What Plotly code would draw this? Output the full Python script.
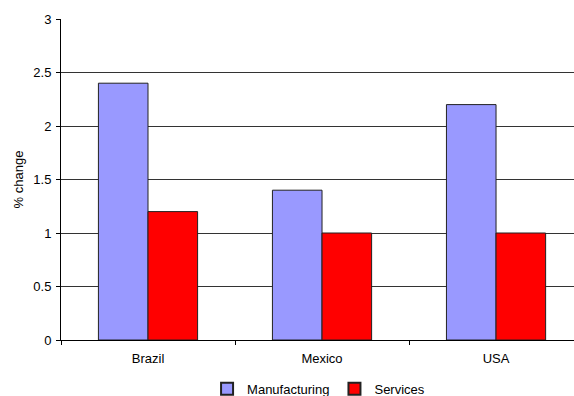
import plotly.graph_objects as go

categories = ["Brazil", "Mexico", "USA"]
manufacturing = [2.4, 1.4, 2.2]
services = [1.2, 1.0, 1.0]
y_ticks = [0, 0.5, 1, 1.5, 2, 2.5, 3]
y_tick_labels = ["0", "0.5", "1", "1.5", "2", "2.5", "3"]

fig = go.Figure()
fig.add_trace(go.Bar(name="Manufacturing", x=categories, y=manufacturing,
                     marker=dict(color="#9999FF", line=dict(color="#222222", width=1))))
fig.add_trace(go.Bar(name="Services", x=categories, y=services,
                     marker=dict(color="#FF0000", line=dict(color="#222222", width=1))))

fig.update_layout(
    width=574, height=396,
    margin=dict(l=61, r=0, t=19, b=56, autoexpand=False),
    paper_bgcolor="white", plot_bgcolor="white",
    font=dict(family="Liberation Sans, Arial, sans-serif", size=13, color="black"),
    barmode="group", bargap=0.43, bargroupgap=0,
    showlegend=True,
    legend=dict(orientation="h", x=0.555, xref="container", xanchor="center",
                y=0.018, yref="container", yanchor="middle",
                font=dict(size=13), itemwidth=30, tracegroupgap=0,
                itemsizing="constant"),
    xaxis=dict(range=[-0.5, 2.448], showline=True, linecolor="black", linewidth=1,
               ticks="outside", tickson="boundaries", ticklen=4, tickcolor="black",
               ticklabelstandoff=6, showgrid=False, fixedrange=True),
    yaxis=dict(range=[0, 3], tickvals=y_ticks, ticktext=y_tick_labels,
               showline=True, linecolor="black", linewidth=1,
               ticks="outside", ticklen=4, tickcolor="black", ticklabelstandoff=2,
               showgrid=True, gridcolor="#333333", gridwidth=1, zeroline=False,
               title=dict(text="% change", standoff=6, font=dict(size=13))),
)
fig.write_html("out.html")
